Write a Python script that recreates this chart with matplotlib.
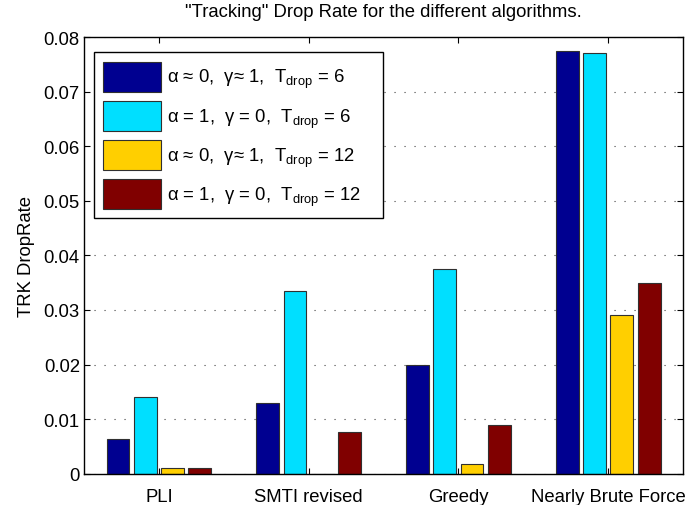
import numpy as np
import matplotlib
matplotlib.use("Agg")
import matplotlib.pyplot as plt

plt.rcParams['font.family'] = ['Liberation Sans', 'DejaVu Sans']
plt.rcParams['mathtext.fontset'] = 'custom'
plt.rcParams['mathtext.rm'] = 'Liberation Sans'
plt.rcParams['mathtext.it'] = 'Liberation Sans'
plt.rcParams['mathtext.bf'] = 'Liberation Sans'

categories = ["PLI", "SMTI revised", "Greedy", "Nearly Brute Force"]
series_labels = [
    "α ≈ 0,  γ≈ 1,  T$_{\\mathrm{drop}}$ = 6",
    "α = 1,  γ = 0,  T$_{\\mathrm{drop}}$ = 6",
    "α ≈ 0,  γ≈ 1,  T$_{\\mathrm{drop}}$ = 12",
    "α = 1,  γ = 0,  T$_{\\mathrm{drop}}$ = 12",
]
s1 = [0.0064, 0.0129, 0.0200, 0.0775]
s2 = [0.0141, 0.0335, 0.0375, 0.0770]
s3 = [0.0010, 0.0000, 0.0017, 0.0290]
s4 = [0.0010, 0.0077, 0.0089, 0.0349]
series = [s1, s2, s3, s4]
colors = ["#000090", "#00DFFF", "#FFCF00", "#800000"]
yticks = [0, 0.01, 0.02, 0.03, 0.04, 0.05, 0.06, 0.07, 0.08]
ytick_labels = ["0", "0.01", "0.02", "0.03", "0.04", "0.05", "0.06", "0.07", "0.08"]

FS = 13.3
fig = plt.figure(figsize=(6.92, 5.06), dpi=100)
ax = fig.add_axes([0.1214, 0.0618, 0.8656, 0.8631])

x = np.arange(1, len(categories) + 1)
step = 0.1825
width = 0.152
for i, (vals, col, lab) in enumerate(zip(series, colors, series_labels)):
    off = (i - 1.5) * step
    ax.bar(x + off, vals, width=width, color=col, edgecolor="#303030",
           linewidth=0.8, label=lab, zorder=2)

ax.set_xlim(0.5, 4.5)
ax.set_ylim(0, 0.08)
ax.set_xticks(x)
ax.set_xticklabels(categories)
ax.set_yticks(yticks)
ax.set_yticklabels(ytick_labels)
ax.tick_params(direction="in", length=4, width=0.8, top=True, right=True,
               labelsize=FS, colors="black")
ax.tick_params(axis="x", pad=10)
ax.tick_params(axis="y", pad=3)
ax.yaxis.grid(True, linestyle=(0, (1, 8)), color="#404040", linewidth=0.8)
ax.set_axisbelow(True)
for sp in ax.spines.values():
    sp.set_linewidth(1.0)
    sp.set_color("black")

ax.set_ylabel("TRK DropRate", fontsize=FS, labelpad=6)
ax.set_title('"Tracking" Drop Rate for the different algorithms.', fontsize=FS, pad=15)

leg = ax.legend(loc="upper left", bbox_to_anchor=(0.0167, 0.5, 0.4825, 0.465),
                mode="expand", borderaxespad=0,
                fontsize=FS, handlelength=3.1, handleheight=2.15,
                labelspacing=0.47, handletextpad=0.35, borderpad=0.5,
                fancybox=False, framealpha=1, edgecolor="black")
leg.get_frame().set_linewidth(1.0)

fig.savefig("out.png", dpi=100)
